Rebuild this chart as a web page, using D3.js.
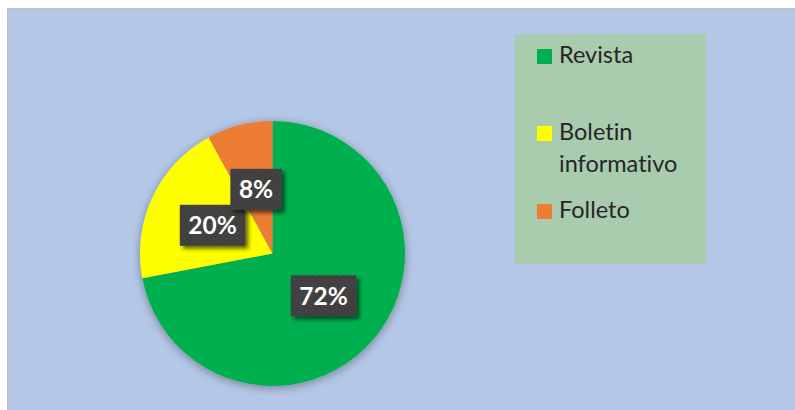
<!DOCTYPE html>
<html><head><meta charset="utf-8">
<script src="https://cdn.jsdelivr.net/npm/d3@7"></script>
<style>html,body{margin:0;padding:0;background:#fff;}</style>
</head><body>
<svg id="chart" width="795" height="410"></svg>
<script>
const categories = ["Revista", "Boletin informativo", "Folleto"];
const values = [72, 20, 8];
const labels = ["72%", "20%", "8%"];
const legendLines = [["Revista"], ["Boletin", "informativo"], ["Folleto"]];
const colors = ["#00B050", "#FFFF00", "#ED7D31"];

const svg = d3.select("#chart");
const defs = svg.append("defs");

const pieShadow = defs.append("filter").attr("id","pieShadow")
  .attr("x","-20%").attr("y","-20%").attr("width","140%").attr("height","140%");
pieShadow.append("feGaussianBlur").attr("in","SourceAlpha").attr("stdDeviation",5).attr("result","b");
pieShadow.append("feOffset").attr("in","b").attr("dx",0).attr("dy",2).attr("result","o");
pieShadow.append("feComponentTransfer").attr("in","o").attr("result","o2")
  .append("feFuncA").attr("type","linear").attr("slope",0.35);
const m1 = pieShadow.append("feMerge");
m1.append("feMergeNode").attr("in","o2");
m1.append("feMergeNode").attr("in","SourceGraphic");

const boxShadow = defs.append("filter").attr("id","boxShadow")
  .attr("x","-30%").attr("y","-30%").attr("width","170%").attr("height","170%");
boxShadow.append("feGaussianBlur").attr("in","SourceAlpha").attr("stdDeviation",2).attr("result","b");
boxShadow.append("feOffset").attr("in","b").attr("dx",3).attr("dy",3).attr("result","o");
boxShadow.append("feComponentTransfer").attr("in","o").attr("result","o2")
  .append("feFuncA").attr("type","linear").attr("slope",0.6);
const m2 = boxShadow.append("feMerge");
m2.append("feMergeNode").attr("in","o2");
m2.append("feMergeNode").attr("in","SourceGraphic");

const pat = defs.append("pattern").attr("id","dots").attr("patternUnits","userSpaceOnUse")
  .attr("width",6).attr("height",6);
pat.append("rect").attr("width",6).attr("height",6).attr("fill","#404040");
pat.append("rect").attr("x",1).attr("y",1).attr("width",1).attr("height",1).attr("fill","#555");
pat.append("rect").attr("x",4).attr("y",4).attr("width",1).attr("height",1).attr("fill","#555");

// chart area
svg.append("rect").attr("x",7.5).attr("y",8.5).attr("width",800).attr("height",410)
  .attr("fill","#B4C7E7").attr("stroke","#BFBFBF").attr("stroke-width",1);

const cx = 272.5, cy = 253.5, r = 132.5;
const pie = d3.pie().sort(null).value(d => d)(values);
const arc = d3.arc().innerRadius(0).outerRadius(r);
const g = svg.append("g").attr("transform",`translate(${cx},${cy})`);
g.append("g").attr("filter","url(#pieShadow)")
  .selectAll("path").data(pie).join("path")
  .attr("d", arc).attr("fill",(d,i)=>colors[i]);

const fontFam = "Lato, 'Open Sans', sans-serif";
const lg = g.selectAll("g.lab").data(pie).join("g").attr("class","lab")
  .attr("transform", d => `translate(${arc.centroid(d)})`);
lg.each(function(d,i){
  const sel = d3.select(this);
  const t = sel.append("text").text(labels[i])
    .attr("text-anchor","middle").attr("dy","0.36em")
    .attr("font-family",fontFam).attr("font-weight","bold")
    .attr("font-size",24.5).attr("fill","#fff");
  const w = t.node().getComputedTextLength() + 17;
  const h = 41;
  sel.insert("rect","text").attr("x",-w/2).attr("y",-h/2).attr("width",w).attr("height",h)
    .attr("fill","url(#dots)").attr("filter","url(#boxShadow)");
});

// legend
svg.append("rect").attr("x",515).attr("y",34).attr("width",191).attr("height",230)
  .attr("fill","#A9CBAE");
const legBase = [63, 140, 218];
const leg = svg.append("g");
categories.forEach((c,i) => {
  leg.append("rect").attr("x",537).attr("y",legBase[i]-14).attr("width",15).attr("height",15)
    .attr("fill",colors[i]);
  legendLines[i].forEach((line,j) => {
    leg.append("text").attr("x",559).attr("y",legBase[i]+j*32)
      .attr("font-family",fontFam).attr("font-size",23.5).attr("fill","#262626")
      .style("font-variant-ligatures","none")
      .text(line);
  });
});
</script>
</body></html>
